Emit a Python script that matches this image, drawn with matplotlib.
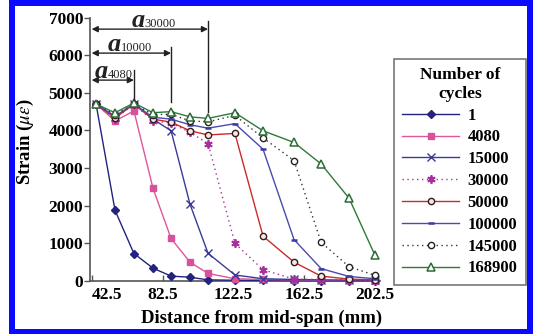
import matplotlib
matplotlib.use("Agg")
import matplotlib.pyplot as plt
from matplotlib.patches import Rectangle

# ---------------- data ----------------
distance_mm = [44.8, 55.5, 66.2, 77.0, 87.2, 97.9, 108.1, 123.3, 139.2, 156.7, 172.0, 187.8, 202.5]

cycles_labels = ["1", "4080", "15000", "30000", "50000", "100000", "145000", "168900"]

strain_1      = [4700, 1880, 730, 340, 130, 100, 30, 20, 15, 10, 10, 5, 5]
strain_4080   = [4700, 4250, 4520, 2460, 1130, 500, 200, 60, 40, 30, 20, 15, 10]
strain_15000  = [4700, 4360, 4700, 4300, 3990, 2040, 735, 160, 60, 40, 30, 20, 15]
strain_30000  = [4700, 4300, 4700, 4250, 4200, 3950, 3650, 1000, 300, 50, 40, 30, 20]
strain_50000  = [4700, 4330, 4700, 4300, 4220, 3990, 3880, 3920, 1190, 500, 130, 50, 30]
strain_100000 = [4700, 4380, 4700, 4350, 4300, 4150, 4060, 4180, 3500, 1100, 330, 120, 60]
strain_145000 = [4700, 4420, 4700, 4420, 4430, 4250, 4230, 4400, 3800, 3200, 1030, 380, 150]
strain_168900 = [4700, 4470, 4730, 4470, 4500, 4360, 4320, 4470, 3990, 3680, 3110, 2200, 680]

x_ticks = [42.5, 82.5, 122.5, 162.5, 202.5]
y_ticks = [0, 1000, 2000, 3000, 4000, 5000, 6000, 7000]

# crack-length annotations: label, x of end line, arrow height, line top, line bottom
ann_labels = ["4080", "10000", "30000"]
ann_x      = [66.2, 87.2, 108.1]
ann_arrow_y = [5337, 6054, 6691]
ann_top    = [5603, 6213, 6904]
ann_bottom = [4806, 4750, 4500]
ann_text_x = [44.2, 51.2, 64.8]

# ---------------- style ----------------
plt.rcParams['font.family'] = ['Liberation Serif', 'DejaVu Serif']
plt.rcParams['mathtext.fontset'] = 'stix'

W, H = 533, 334
fig = plt.figure(figsize=(W / 100, H / 100), dpi=100)
fig.patch.set_facecolor('white')

ax = fig.add_axes([90 / W, 1 - 281 / H, (380 - 90) / W, (281 - 17.5) / H])

series = [
    (strain_1,      dict(color='#23237e', ls='-', marker='D', ms=3.8, mfc='#23237e', mec='#23237e')),
    (strain_4080,   dict(color='#e0559c', ls='-', marker='s', ms=5, mfc='#d9519a', mec='#d9519a')),
    (strain_15000,  dict(color='#3a3a98', ls='-', marker='x', ms=5.5, mew=1.0, mec='#3a3a98')),
    (strain_30000,  dict(color='#a5329a', ls=(0, (1, 2.5)), marker=(6, 2, 0), ms=6, mew=1.3, mec='#a5329a')),
    (strain_50000,  dict(color='#cc2a2a', ls='-', marker='o', ms=4.5, mfc='#f4e8e8', mec='#3a1a1a', mew=1.0)),
    (strain_100000, dict(color='#4a4ab0', ls='-', marker='_', ms=5, mew=1.8, mec='#3a3aa0')),
    (strain_145000, dict(color='#333333', ls=(0, (1, 2.5)), marker='o', ms=4.5, mfc='white', mec='#222222', mew=1.0)),
    (strain_168900, dict(color='#2e7a3a', ls='-', marker='^', ms=5.5, mfc='white', mec='#2e6a36', mew=1.1)),
]

handles = []
for (vals, kw), lab in zip(series, cycles_labels):
    h, = ax.plot(distance_mm, vals, lw=1.0, label=lab, clip_on=False, zorder=3, **kw)
    handles.append(h)

ax.set_xlim(41.37, 205.3)
ax.set_ylim(0, 7000)
ax.set_xticks(x_ticks)
ax.set_xticklabels([("%g" % v) for v in x_ticks])
ax.set_yticks(y_ticks)
ax.set_yticklabels([str(v) for v in y_ticks])

for s in ['top', 'right']:
    ax.spines[s].set_visible(False)
for s in ['left', 'bottom']:
    ax.spines[s].set_color('#555555')
    ax.spines[s].set_linewidth(1.2)

ax.tick_params(axis='y', direction='out', length=4, width=1, color='#555555',
               labelsize=12.5, pad=1)
ax.tick_params(axis='x', direction='in', length=4, width=1, color='#555555',
               labelsize=12.5, pad=4)
for t in ax.get_xticklabels() + ax.get_yticklabels():
    t.set_fontweight('bold')
ax.get_xticklabels()[0].set_horizontalalignment('left')

ax.set_xlabel('Distance from mid-span (mm)', fontsize=13.5, fontweight='bold')
ax.xaxis.set_label_coords(0.59, -0.11)
ax.set_ylabel(r'Strain ($\mu\varepsilon$)', fontsize=13.5, fontweight='bold')
ax.yaxis.set_label_coords(-0.185, 0.53)

# annotations
for lab, xe, ya, yt, yb, xt in zip(ann_labels, ann_x, ann_arrow_y, ann_top, ann_bottom, ann_text_x):
    ax.plot([xe, xe], [yb, yt], color='#222222', lw=1.0, zorder=4, clip_on=False)
    ax.annotate('', xy=(42.3, ya), xytext=(xe, ya),
                arrowprops=dict(arrowstyle='<|-|>', color='#222222', lw=1.0,
                                mutation_scale=9, shrinkA=0, shrinkB=0),
                annotation_clip=False)
    ax.annotate('a', xy=(xt, ya), xytext=(0, 1.5), textcoords='offset points',
                fontsize=19, fontstyle='italic', fontweight='bold', family='Liberation Serif',
                ha='left', va='baseline', color='#222222', annotation_clip=False)
    ax.annotate(lab, xy=(xt, ya), xytext=(9.5, 1.5), textcoords='offset points',
                fontsize=9, family='Liberation Serif',
                ha='left', va='baseline', color='#222222', annotation_clip=False)

# legend
leg = fig.legend(handles=handles, labels=cycles_labels, loc='upper left',
                 bbox_to_anchor=(394 / W, 1 - 59 / H), bbox_transform=fig.transFigure,
                 title='Number of\ncycles', frameon=True, fancybox=False,
                 handlelength=3.4, handletextpad=0.5, labelspacing=0.35,
                 borderpad=0.5, borderaxespad=0,
                 prop=dict(family='Liberation Serif', weight='bold', size=12),
                 title_fontproperties=dict(family='Liberation Serif', weight='bold', size=12.5))
leg.get_title().set_multialignment('center')
leg.get_frame().set_edgecolor('#555555')
leg.get_frame().set_linewidth(1.2)

# blue frame around the figure
def px_rect(x0, y0, x1, y1):
    fig.patches.append(Rectangle((x0 / W, 1 - y1 / H), (x1 - x0) / W, (y1 - y0) / H,
                                 transform=fig.transFigure, facecolor='#0a0aff',
                                 edgecolor='none', zorder=10))

px_rect(9, 0, 533, 6)
px_rect(9, 0, 15, 334)
px_rect(527, 0, 533, 334)
px_rect(9, 329, 533, 334)

fig.savefig('out.png', dpi=100)
